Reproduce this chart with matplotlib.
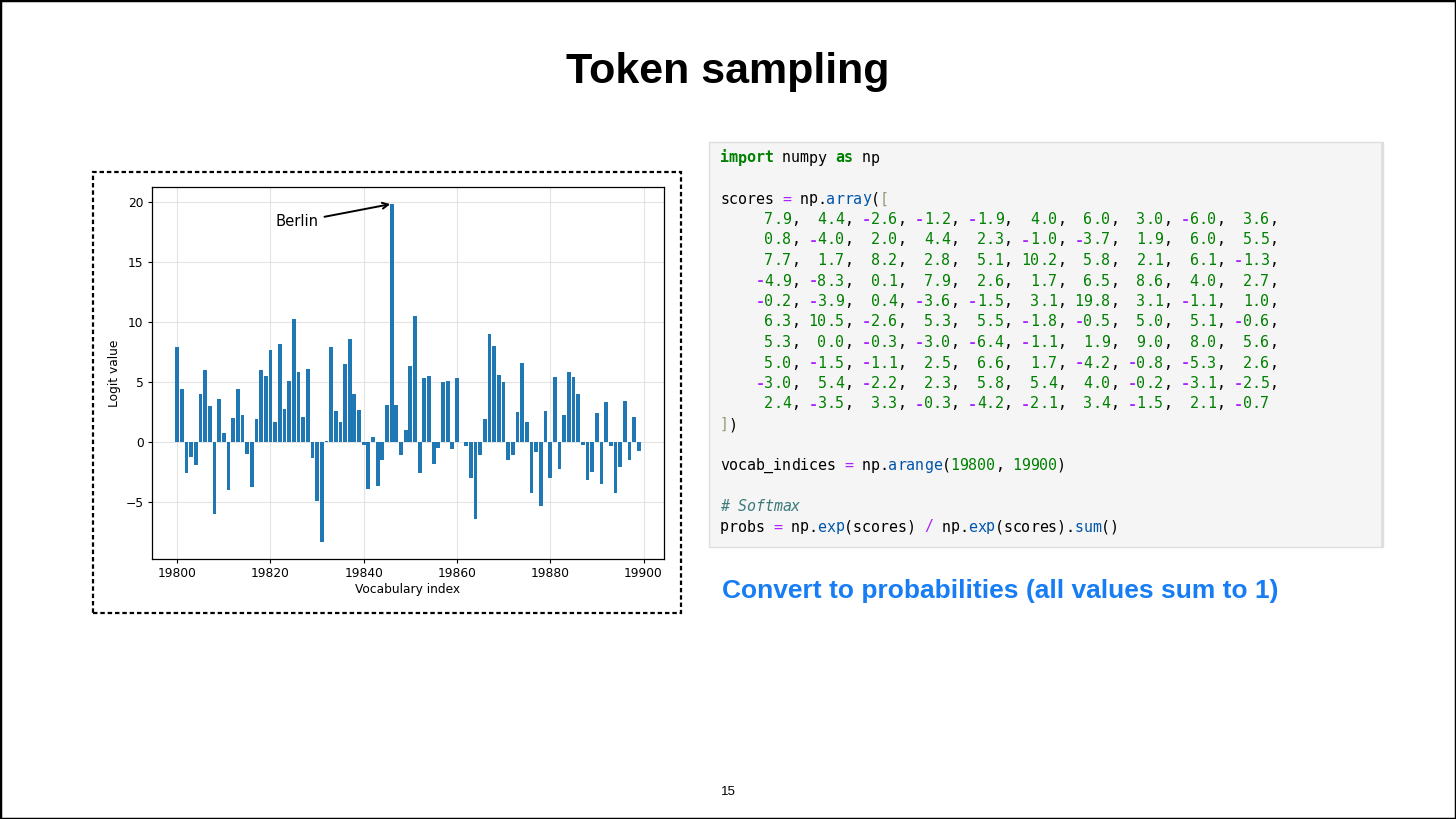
import numpy as np
import matplotlib
matplotlib.use("Agg")
import matplotlib.pyplot as plt
from matplotlib.patches import Rectangle

# ---------------- data ----------------
scores = [
    7.9, 4.4, -2.6, -1.2, -1.9, 4.0, 6.0, 3.0, -6.0, 3.6,
    0.8, -4.0, 2.0, 4.4, 2.3, -1.0, -3.7, 1.9, 6.0, 5.5,
    7.7, 1.7, 8.2, 2.8, 5.1, 10.2, 5.8, 2.1, 6.1, -1.3,
    -4.9, -8.3, 0.1, 7.9, 2.6, 1.7, 6.5, 8.6, 4.0, 2.7,
    -0.2, -3.9, 0.4, -3.6, -1.5, 3.1, 19.8, 3.1, -1.1, 1.0,
    6.3, 10.5, -2.6, 5.3, 5.5, -1.8, -0.5, 5.0, 5.1, -0.6,
    5.3, 0.0, -0.3, -3.0, -6.4, -1.1, 1.9, 9.0, 8.0, 5.6,
    5.0, -1.5, -1.1, 2.5, 6.6, 1.7, -4.2, -0.8, -5.3, 2.6,
    -3.0, 5.4, -2.2, 2.3, 5.8, 5.4, 4.0, -0.2, -3.1, -2.5,
    2.4, -3.5, 3.3, -0.3, -4.2, -2.1, 3.4, -1.5, 2.1, -0.7,
]
vocab_start, vocab_stop = 19800, 19900
vocab_indices = np.arange(vocab_start, vocab_stop)
annot_label = "Berlin"
title_text = "Token sampling"
subtitle_text = "Convert to probabilities (all values sum to 1)"
page_number = "15"

W, H = 1456, 819
fig = plt.figure(figsize=(W / 100, H / 100), dpi=100)
fig.patch.set_facecolor("white")


def fx(x):
    return x / W


def fy(y):
    return 1 - y / H


# outer slide border
fig.patches.append(Rectangle((0, 0), 1, 1, transform=fig.transFigure,
                             fill=False, edgecolor="black", lw=2.5))

# title
fig.text(fx(728), fy(83), title_text, ha="center", va="baseline",
         fontsize=31, fontweight="bold", family="Liberation Sans", color="black")

# ---------------- chart ----------------
frame = Rectangle((fx(93), fy(613)), fx(681) - fx(93), fy(172) - fy(613),
                  transform=fig.transFigure, fill=False, edgecolor="black",
                  lw=1.6, linestyle=(0, (2.0, 1.3)))
fig.patches.append(frame)

ax = fig.add_axes([fx(152), fy(559), fx(664) - fx(152), fy(187) - fy(559)])
ax.bar(vocab_indices, scores, width=0.8, color="#1f77b4", zorder=3)
ax.grid(True, color="#d9d9d9", lw=0.8, alpha=0.7, zorder=0)
ax.set_axisbelow(True)
ax.set_xlabel("Vocabulary index", fontsize=8.8, labelpad=2)
ax.set_ylabel("Logit value", fontsize=8.8, labelpad=3)
ax.tick_params(labelsize=8.8, length=3.1, width=0.8, pad=3)
for s in ax.spines.values():
    s.set_linewidth(0.9)
imax = int(np.argmax(scores))
ax.annotate(annot_label, xy=(vocab_indices[imax], scores[imax]),
            xytext=(vocab_start + 25.8, 18.3), ha="center", va="center",
            fontsize=10.6,
            arrowprops=dict(arrowstyle="->", color="black", lw=1.4,
                            shrinkA=2, shrinkB=1))

# ---------------- code block ----------------
fig.patches.append(Rectangle((fx(709), fy(547)), fx(1383) - fx(709), fy(142) - fy(547),
                             transform=fig.transFigure, facecolor="#f5f5f5",
                             edgecolor="#dedede", lw=1.0))
fig.lines.append(plt.Line2D([fx(1381.5), fx(1381.5)], [fy(143), fy(547)],
                            transform=fig.transFigure, color="#dcdcdc", lw=1.2))

C_KW = "#008000"
C_NUM = "#008000"
C_OP = "#AA22FF"
C_FN = "#0055AA"
C_BR = "#999977"
C_CM = "#3D7B7B"
C_TX = "#000000"

x0, cw = 720.0, 8.86
mono = "DejaVu Sans Mono"
fs_code = 10.8


def draw_line(y, segs):
    col = 0
    for seg in segs:
        text, color = seg[0], seg[1]
        weight = seg[2] if len(seg) > 2 else "normal"
        style = seg[3] if len(seg) > 3 else "normal"
        for ch in text:
            if ch != " ":
                fig.text(fx(x0 + col * cw), fy(y), ch, ha="left", va="center",
                         fontsize=fs_code, family=mono, color=color,
                         fontweight=weight, fontstyle=style)
            col += 1


ls = 20.5
y = 158.0
draw_line(y, [("import", C_KW, "bold"), (" numpy ", C_TX), ("as", C_KW, "bold"), (" np", C_TX)])
y += 2 * ls
draw_line(y, [("scores ", C_TX), ("=", C_OP), (" np.", C_TX), ("array", C_FN), ("(", C_TX), ("[", C_BR)])
nrows = len(scores) // 10
for r in range(nrows):
    y += ls
    segs = [("    ", C_TX)]
    row = scores[r * 10:(r + 1) * 10]
    for i, v in enumerate(row):
        s = f"{v:4.1f}"
        if s.startswith("-"):
            segs.append(("-", C_OP, "bold"))
            segs.append((s[1:], C_NUM))
        else:
            segs.append((s, C_NUM))
        last = (r == nrows - 1 and i == len(row) - 1)
        if not last:
            segs.append(("," if i == len(row) - 1 else ", ", C_TX))
    draw_line(y, segs)
y += ls
draw_line(y, [("]", C_BR), (")", C_TX)])
y += 2 * ls
draw_line(y, [("vocab_indices ", C_TX), ("=", C_OP), (" np.", C_TX), ("arange", C_FN),
              ("(", C_TX), (str(vocab_start), C_NUM), (", ", C_TX), (str(vocab_stop), C_NUM), (")", C_TX)])
y += 2 * ls
draw_line(y, [("# Softmax", C_CM, "normal", "italic")])
y += ls
draw_line(y, [("probs ", C_TX), ("=", C_OP), (" np.", C_TX), ("exp", C_FN), ("(scores) ", C_TX),
              ("/", C_OP), (" np.", C_TX), ("exp", C_FN), ("(scores).", C_TX), ("sum", C_FN), ("()", C_TX)])

# subtitle
fig.text(fx(722), fy(591), subtitle_text, ha="left", va="center",
         fontsize=19, fontweight="bold", family="Liberation Sans", color="#167DF5")

# page number
fig.text(fx(728), fy(792), page_number, ha="center", va="center",
         fontsize=9.5, family="Liberation Sans", color="black")

fig.savefig("out.png", dpi=100, facecolor="white")
